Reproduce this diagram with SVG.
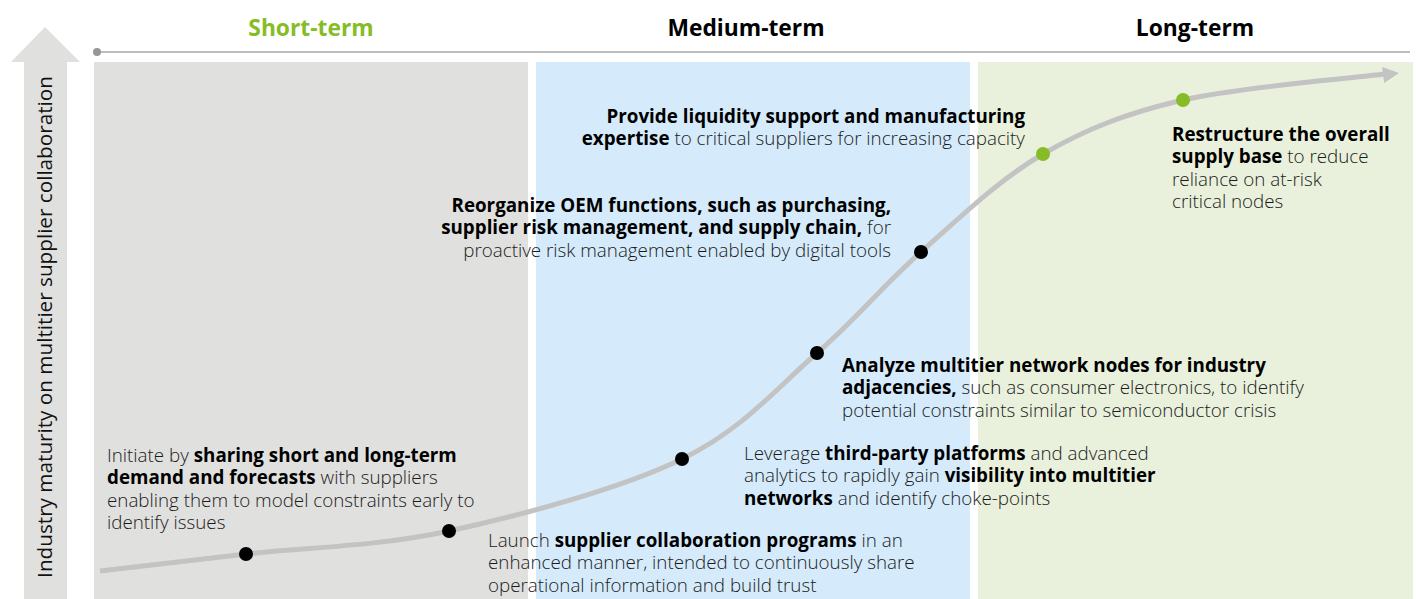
<svg xmlns="http://www.w3.org/2000/svg" width="1416" height="599" viewBox="0 0 1416 599">
<style>
.t{font-family:"Open Sans","Noto Sans","Liberation Sans",sans-serif;font-size:18.8px;font-weight:300;fill:#1a1a1a}
.b{font-weight:700;fill:#000}
.h{font-family:"Open Sans","Noto Sans","Liberation Sans",sans-serif;font-size:22.8px;font-weight:700;text-anchor:middle}
.dot{fill:#000}
.gdot{fill:#86bc25}
</style>
<g id="background">
<rect x="94" y="62" width="434" height="537" fill="#e0e0df"/>
<rect x="536" y="62" width="434" height="537" fill="#d5ebfb"/>
<rect x="978" y="62" width="435" height="537" fill="#e9f1dc"/>
</g>
<g id="axis">
<polygon points="45,27 80,62 67,62 67,599 24,599 24,62 11,62" fill="#e0e0df"/>
<text transform="translate(52,327) rotate(-90)" text-anchor="middle" style="font-family:'Open Sans','Noto Sans','Liberation Sans',sans-serif;font-size:20.7px;font-weight:400;fill:#111">Industry maturity on multitier supplier collaboration</text>
<line x1="97" y1="52" x2="1410" y2="52" stroke="#a7a7a9" stroke-width="1.5"/>
<circle cx="97" cy="52" r="4" fill="#97979a"/>
</g>
<g id="headers">
<text class="h" x="311" y="35.5" fill="#86bc25">Short-term</text>
<text class="h" x="746" y="35.5" fill="#000">Medium-term</text>
<text class="h" x="1195" y="35.5" fill="#000">Long-term</text>
</g>
<g id="connectors">
<path d="M100,571 C124.3,568.2 187.8,560.7 246,554 C304.2,547.3 376.3,546.8 449,531 C521.7,515.2 620.7,488.7 682,459 C743.3,429.3 777.2,387.5 817,353 C856.8,318.5 883.3,285.2 921,252 C958.7,218.8 999.3,179.3 1043,154 C1086.7,128.7 1126,113.3 1183,100 C1240,86.7 1351.3,78.3 1385,74" fill="none" stroke="#c3c3c3" stroke-width="5"/>
<polygon points="1399,73 1382.1,67.1 1384.1,82.9" fill="#c3c3c3"/>
</g>
<g id="node1">
<circle class="dot" cx="246" cy="554" r="7"/>
<text class="t" x="107" y="462">Initiate by <tspan class="b">sharing short and long-term</tspan><tspan x="107" dy="22.3" class="b">demand and forecasts</tspan> with suppliers<tspan x="107" dy="22.3">enabling them to model constraints early to</tspan><tspan x="107" dy="22.3">identify issues</tspan></text>
</g>
<g id="node2">
<circle class="dot" cx="449" cy="531" r="7"/>
<text class="t" x="488" y="547">Launch <tspan class="b">supplier collaboration programs</tspan> in an<tspan x="488" dy="22.3">enhanced manner, intended to continuously share</tspan><tspan x="488" dy="22.3">operational information and build trust</tspan></text>
</g>
<g id="node3">
<circle class="dot" cx="682" cy="459" r="7"/>
<text class="t" x="744" y="460">Leverage <tspan class="b">third-party platforms</tspan> and advanced<tspan x="744" dy="22.3">analytics to rapidly gain </tspan><tspan class="b">visibility into multitier</tspan><tspan x="744" dy="22.3" class="b">networks</tspan> and identify choke-points</text>
</g>
<g id="node4">
<circle class="dot" cx="817" cy="353" r="7"/>
<text class="t" x="842" y="372"><tspan class="b">Analyze multitier network nodes for industry</tspan><tspan x="842" dy="22.3" class="b">adjacencies,</tspan> such as consumer electronics, to identify<tspan x="842" dy="22.3">potential constraints similar to semiconductor crisis</tspan></text>
</g>
<g id="node5">
<circle class="dot" cx="921" cy="252" r="7"/>
<text class="t" text-anchor="end" x="891" y="212"><tspan class="b">Reorganize OEM functions, such as purchasing,</tspan><tspan x="891" dy="22.3"><tspan class="b">supplier risk management, and supply chain,</tspan> for</tspan><tspan x="891" dy="22.3">proactive risk management enabled by digital tools</tspan></text>
</g>
<g id="node6">
<circle class="gdot" cx="1043" cy="154" r="7"/>
<text class="t" text-anchor="end" x="1025" y="123"><tspan class="b">Provide liquidity support and manufacturing</tspan><tspan x="1025" dy="22.3"><tspan class="b">expertise</tspan> to critical suppliers for increasing capacity</tspan></text>
</g>
<g id="node7">
<circle class="gdot" cx="1183" cy="100" r="7"/>
<text class="t" x="1172" y="141"><tspan class="b">Restructure the overall</tspan><tspan x="1172" dy="22.3" class="b">supply base</tspan> to reduce<tspan x="1172" dy="22.3">reliance on at-risk</tspan><tspan x="1172" dy="22.3">critical nodes</tspan></text>
</g>
</svg>
